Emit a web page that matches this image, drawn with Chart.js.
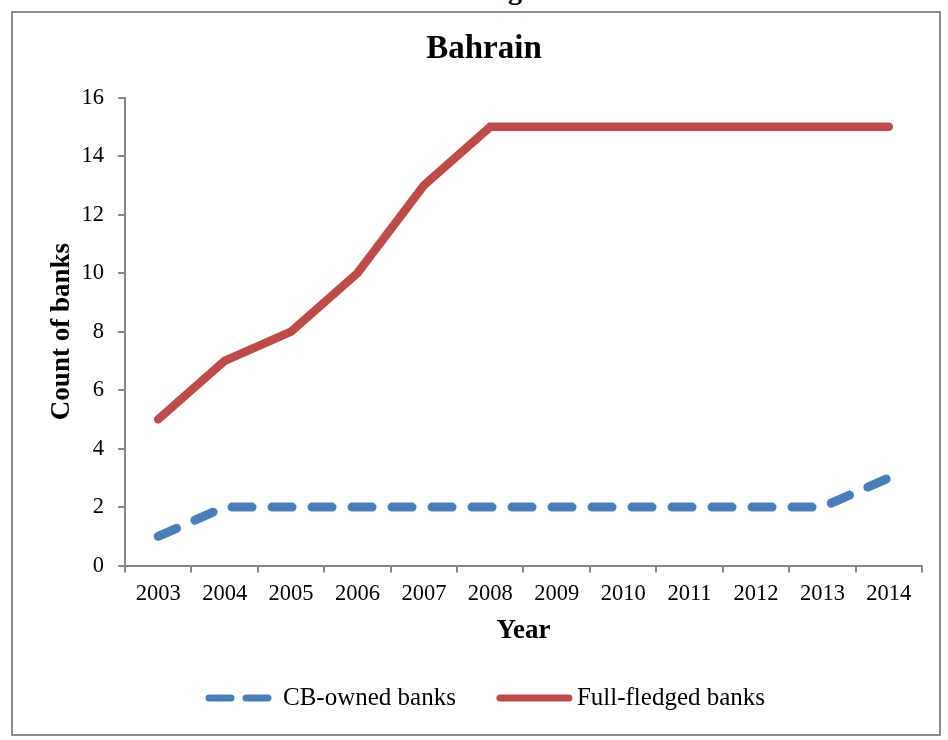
<!DOCTYPE html>
<html>
<head>
<meta charset="utf-8">
<script src="https://cdn.jsdelivr.net/npm/chart.js@4/dist/chart.umd.min.js"></script>
<style>
  html, body { margin: 0; padding: 0; background: #fff; overflow: hidden; }
  body { width: 948px; height: 740px; position: relative; }
  .cut { position: absolute; left: 508px; top: -24px; font: bold 28px/28px "Liberation Serif", serif; color: #000; }
  .frame { position: absolute; left: 11px; top: 11px; width: 926px; height: 721px; border: 2px solid #8a8a8a; background: #fff; }
  .frame canvas { display: block; }
</style>
</head>
<body>
<div class="cut">g</div>
<div class="frame"><canvas id="c" width="926" height="721"></canvas></div>
<script>
const years = ['2003', '2004', '2005', '2006', '2007', '2008', '2009', '2010', '2011', '2012', '2013', '2014'];
const cbOwned = [1, 2, 2, 2, 2, 2, 2, 2, 2, 2, 2, 3];
const fullFledged = [5, 7, 8, 10, 13, 15, 15, 15, 15, 15, 15, 15];
const yTicks = [0, 2, 4, 6, 8, 10, 12, 14, 16];

const serif = '"Liberation Serif", "Times New Roman", serif';
const axisGrey = '#868686';

// legend row under the axis title: a short line sample per series, then its label
const bottomLegend = {
  id: 'bottomLegend',
  afterDraw(chart) {
    const ctx = chart.ctx;
    const y = 685;
    const items = [
      { ds: chart.data.datasets[0], sample: 59, gap: 15, dash: [22, 15] },
      { ds: chart.data.datasets[1], sample: 69, gap: 8, dash: [] }
    ];
    const between = 44;
    ctx.save();
    ctx.font = '25px ' + serif;
    let x = chart.width / 2 - 267;
    items.forEach(it => {
      ctx.beginPath();
      ctx.setLineDash(it.dash);
      ctx.lineCap = 'round';
      ctx.lineWidth = 7;
      ctx.strokeStyle = it.ds.borderColor;
      ctx.moveTo(x, y);
      ctx.lineTo(x + it.sample, y);
      ctx.stroke();
      x += it.sample + it.gap;
      ctx.setLineDash([]);
      ctx.fillStyle = '#000';
      ctx.textBaseline = 'middle';
      ctx.textAlign = 'left';
      ctx.fillText(it.ds.label, x, y);
      x += ctx.measureText(it.ds.label).width + between;
    });
    ctx.restore();
  }
};

new Chart(document.getElementById('c'), {
  type: 'line',
  data: {
    labels: years,
    datasets: [
      {
        label: 'CB-owned banks',
        data: cbOwned,
        borderColor: '#4A7EBB',
        backgroundColor: '#4A7EBB',
        borderWidth: 9,
        borderDash: [20, 20],
        borderCapStyle: 'round',
        borderJoinStyle: 'round',
        pointRadius: 0,
        tension: 0
      },
      {
        label: 'Full-fledged banks',
        data: fullFledged,
        borderColor: '#BE4B48',
        backgroundColor: '#BE4B48',
        borderWidth: 8.5,
        borderCapStyle: 'round',
        borderJoinStyle: 'miter',
        pointRadius: 0,
        tension: 0
      }
    ]
  },
  options: {
    responsive: false,
    animation: false,
    layout: { padding: { left: 33, right: 17, top: 0, bottom: 87 } },
    plugins: {
      title: {
        display: true,
        text: 'Bahrain',
        color: '#000',
        font: { family: serif, size: 33, weight: 'bold' },
        padding: { top: 17, bottom: 28 }
      },
      legend: { display: false },
      tooltip: { enabled: false }
    },
    scales: {
      x: {
        offset: true,
        grid: { offset: true, drawOnChartArea: false, drawTicks: true, tickLength: 7, color: axisGrey, lineWidth: 2 },
        border: { display: true, color: axisGrey, width: 2 },
        ticks: { color: '#000', font: { family: serif, size: 22.5 }, padding: 8, maxRotation: 0 },
        title: {
          display: true,
          text: 'Year',
          color: '#000',
          font: { family: serif, size: 27, weight: 'bold' },
          padding: { top: -1, bottom: 0 }
        }
      },
      y: {
        min: yTicks[0],
        max: yTicks[yTicks.length - 1],
        afterBuildTicks: axis => { axis.ticks = yTicks.map(v => ({ value: v })); },
        afterFit: axis => { axis.width = 79; },
        grid: { drawOnChartArea: false, drawTicks: true, tickLength: 7, color: axisGrey, lineWidth: 2 },
        border: { display: true, color: axisGrey, width: 2 },
        ticks: { color: '#000', font: { family: serif, size: 22.5 }, padding: 14 },
        title: {
          display: true,
          text: 'Count of banks',
          color: '#000',
          font: { family: serif, size: 27, weight: 'bold' },
          padding: { top: 0, bottom: 4 }
        }
      }
    }
  },
  plugins: [bottomLegend]
});
</script>
</body>
</html>
